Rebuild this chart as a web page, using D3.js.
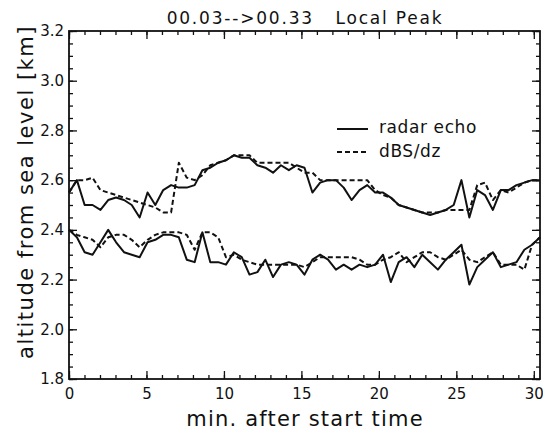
<!DOCTYPE html>
<html>
<head>
<meta charset="utf-8">
<script src="https://cdn.jsdelivr.net/npm/d3@7"></script>
<style>
  body { margin: 0; background: #fff; }
  svg text { font-family: "DejaVu Sans", "Liberation Sans", sans-serif; fill: #111; }
</style>
</head>
<body>
<div id="viz"></div>
<script>
const width = 543;
const height = 432;
const margin = {top: 31, right: 3, bottom: 53, left: 69};

// minutes after start time (sample times)
const minutes = [0, 0.51, 1.01, 1.52, 2.03, 2.53, 3.04, 3.55, 4.05, 4.56, 5.07, 5.57, 6.08, 6.59, 7.09,
  7.60, 8.11, 8.61, 9.12, 9.63, 10.13, 10.64, 11.15, 11.65, 12.16, 12.67, 13.17, 13.68, 14.19, 14.69,
  15.20, 15.71, 16.21, 16.72, 17.23, 17.73, 18.24, 18.75, 19.25, 19.76, 20.27, 20.77, 21.28, 21.79, 22.29,
  22.80, 23.31, 23.81, 24.32, 24.83, 25.33, 25.84, 26.35, 26.85, 27.36, 27.87, 28.37, 28.88, 29.39, 29.89, 30.40];

// upper layer
const echoUpper = [2.55, 2.60, 2.50, 2.50, 2.48, 2.52, 2.53, 2.52, 2.50, 2.45,
  2.55, 2.50, 2.56, 2.58, 2.57, 2.57, 2.58, 2.64, 2.65, 2.67,
  2.68, 2.70, 2.69, 2.69, 2.66, 2.65, 2.63, 2.66, 2.64, 2.66,
  2.65, 2.55, 2.59, 2.60, 2.60, 2.57, 2.52, 2.56, 2.58, 2.55,
  2.55, 2.53, 2.50, 2.49, 2.48, 2.47, 2.46, 2.47, 2.48, 2.50,
  2.60, 2.45, 2.56, 2.54, 2.48, 2.56, 2.56, 2.58, 2.59, 2.60, 2.60];
const dbsUpper = [2.55, 2.60, 2.60, 2.61, 2.56, 2.55, 2.54, 2.53, 2.52, 2.51,
  2.50, 2.49, 2.47, 2.47, 2.67, 2.61, 2.60, 2.62, 2.66, 2.67,
  2.68, 2.70, 2.70, 2.70, 2.67, 2.67, 2.67, 2.67, 2.67, 2.65,
  2.63, 2.63, 2.60, 2.60, 2.60, 2.60, 2.60, 2.60, 2.60, 2.56,
  2.54, 2.53, 2.50, 2.49, 2.48, 2.47, 2.47, 2.47, 2.48, 2.48,
  2.48, 2.48, 2.58, 2.59, 2.52, 2.56, 2.55, 2.57, 2.59, 2.60, 2.60];

// lower layer
const echoLower = [2.40, 2.37, 2.31, 2.30, 2.35, 2.40, 2.35, 2.31, 2.30, 2.29,
  2.35, 2.36, 2.38, 2.38, 2.37, 2.28, 2.27, 2.39, 2.27, 2.27,
  2.26, 2.31, 2.29, 2.22, 2.23, 2.28, 2.21, 2.26, 2.27, 2.26,
  2.22, 2.28, 2.30, 2.28, 2.24, 2.26, 2.24, 2.26, 2.25, 2.26,
  2.30, 2.19, 2.27, 2.29, 2.25, 2.30, 2.27, 2.24, 2.28, 2.31,
  2.34, 2.18, 2.25, 2.28, 2.31, 2.25, 2.26, 2.27, 2.32, 2.34, 2.37];
const dbsLower = [2.40, 2.38, 2.37, 2.36, 2.33, 2.37, 2.38, 2.38, 2.36, 2.33,
  2.36, 2.38, 2.39, 2.39, 2.39, 2.38, 2.32, 2.39, 2.39, 2.37,
  2.29, 2.30, 2.28, 2.27, 2.26, 2.26, 2.26, 2.26, 2.26, 2.26,
  2.25, 2.27, 2.29, 2.29, 2.29, 2.29, 2.29, 2.28, 2.26, 2.26,
  2.28, 2.29, 2.31, 2.27, 2.29, 2.31, 2.31, 2.29, 2.28, 2.30,
  2.32, 2.28, 2.27, 2.29, 2.31, 2.26, 2.26, 2.26, 2.24, 2.34, 2.37];

const xTicks = [0, 5, 10, 15, 20, 25, 30];
const yTicks = [1.8, 2.0, 2.2, 2.4, 2.6, 2.8, 3.0, 3.2];
const legendItems = [
  { label: 'radar echo', dash: null },
  { label: 'dBS/dz', dash: '5,3' }
];

const svg = d3.select('#viz').append('svg')
  .attr('width', width)
  .attr('height', height);

const x = d3.scaleLinear().domain([0, 30.4]).range([margin.left, width - margin.right]);
const y = d3.scaleLinear().domain([1.8, 3.2]).range([height - margin.bottom, margin.top]);

const minorX = d3.range(0, 31, 1);
const minorY = d3.range(1.8, 3.2001, 0.05);

// ticks on all four sides pointing inward (IDL style)
function styleAxis(g) {
  g.select('.domain').remove();
  g.selectAll('line').attr('stroke', '#111').attr('stroke-width', 1.3);
  g.selectAll('text').style('font-size', '15px').attr('fill', '#111');
}

svg.append('g')
  .attr('transform', `translate(0,${y(1.8)})`)
  .call(d3.axisBottom(x).tickValues(minorX).tickSize(-4).tickFormat(''))
  .call(styleAxis);
svg.append('g')
  .attr('transform', `translate(0,${y(1.8)})`)
  .call(d3.axisBottom(x).tickValues(xTicks).tickSize(-8).tickPadding(9).tickFormat(d3.format('d')))
  .call(styleAxis);
svg.append('g')
  .attr('transform', `translate(0,${y(3.2)})`)
  .call(d3.axisTop(x).tickValues(minorX).tickSize(-4).tickFormat(''))
  .call(styleAxis);
svg.append('g')
  .attr('transform', `translate(0,${y(3.2)})`)
  .call(d3.axisTop(x).tickValues(xTicks).tickSize(-8).tickFormat(''))
  .call(styleAxis);

svg.append('g')
  .attr('transform', `translate(${x(0)},0)`)
  .call(d3.axisLeft(y).tickValues(minorY).tickSize(-4).tickFormat(''))
  .call(styleAxis);
svg.append('g')
  .attr('transform', `translate(${x(0)},0)`)
  .call(d3.axisLeft(y).tickValues(yTicks).tickSize(-8).tickPadding(5).tickFormat(d3.format('.1f')))
  .call(styleAxis);
svg.append('g')
  .attr('transform', `translate(${x(30.4)},0)`)
  .call(d3.axisRight(y).tickValues(minorY).tickSize(-4).tickFormat(''))
  .call(styleAxis);
svg.append('g')
  .attr('transform', `translate(${x(30.4)},0)`)
  .call(d3.axisRight(y).tickValues(yTicks).tickSize(-8).tickFormat(''))
  .call(styleAxis);

// frame
svg.append('rect')
  .attr('x', x(0)).attr('y', y(3.2))
  .attr('width', x(30.4) - x(0)).attr('height', y(1.8) - y(3.2))
  .attr('fill', 'none').attr('stroke', '#111').attr('stroke-width', 1.8);

// curves
const line = d3.line()
  .x((d, i) => x(minutes[i]))
  .y(d => y(d));

const series = [
  { values: echoUpper, dash: null },
  { values: dbsUpper, dash: '5,3' },
  { values: echoLower, dash: null },
  { values: dbsLower, dash: '5,3' }
];

svg.append('g').selectAll('path')
  .data(series)
  .join('path')
  .attr('d', d => line(d.values))
  .attr('fill', 'none')
  .attr('stroke', '#111')
  .attr('stroke-width', 2)
  .attr('stroke-linejoin', 'round')
  .attr('stroke-dasharray', d => d.dash);

// legend
const leg = svg.append('g');
leg.selectAll('line')
  .data(legendItems)
  .join('line')
  .attr('x1', 337).attr('x2', 368)
  .attr('y1', (d, i) => 129 + i * 23)
  .attr('y2', (d, i) => 129 + i * 23)
  .attr('stroke', '#111').attr('stroke-width', 2)
  .attr('stroke-dasharray', d => d.dash);
leg.selectAll('text')
  .data(legendItems)
  .join('text')
  .attr('x', 379)
  .attr('y', (d, i) => 133 + i * 24)
  .style('font-size', '17px')
  .style('letter-spacing', '0.6px')
  .text(d => d.label);

// titles
svg.append('text')
  .attr('x', 305).attr('y', 24)
  .attr('text-anchor', 'middle')
  .style('font-size', '17px')
  .style('letter-spacing', '1.8px')
  .style('white-space', 'pre')
  .text('00.03-->00.33   Local Peak');

svg.append('text')
  .attr('x', 305).attr('y', 426)
  .attr('text-anchor', 'middle')
  .style('font-size', '21px')
  .style('letter-spacing', '1.2px')
  .text('min. after start time');

svg.append('text')
  .attr('transform', 'translate(33,192) rotate(-90)')
  .attr('text-anchor', 'middle')
  .style('font-size', '21px')
  .style('letter-spacing', '1.5px')
  .text('altitude from sea level [km]');
</script>
</body>
</html>
